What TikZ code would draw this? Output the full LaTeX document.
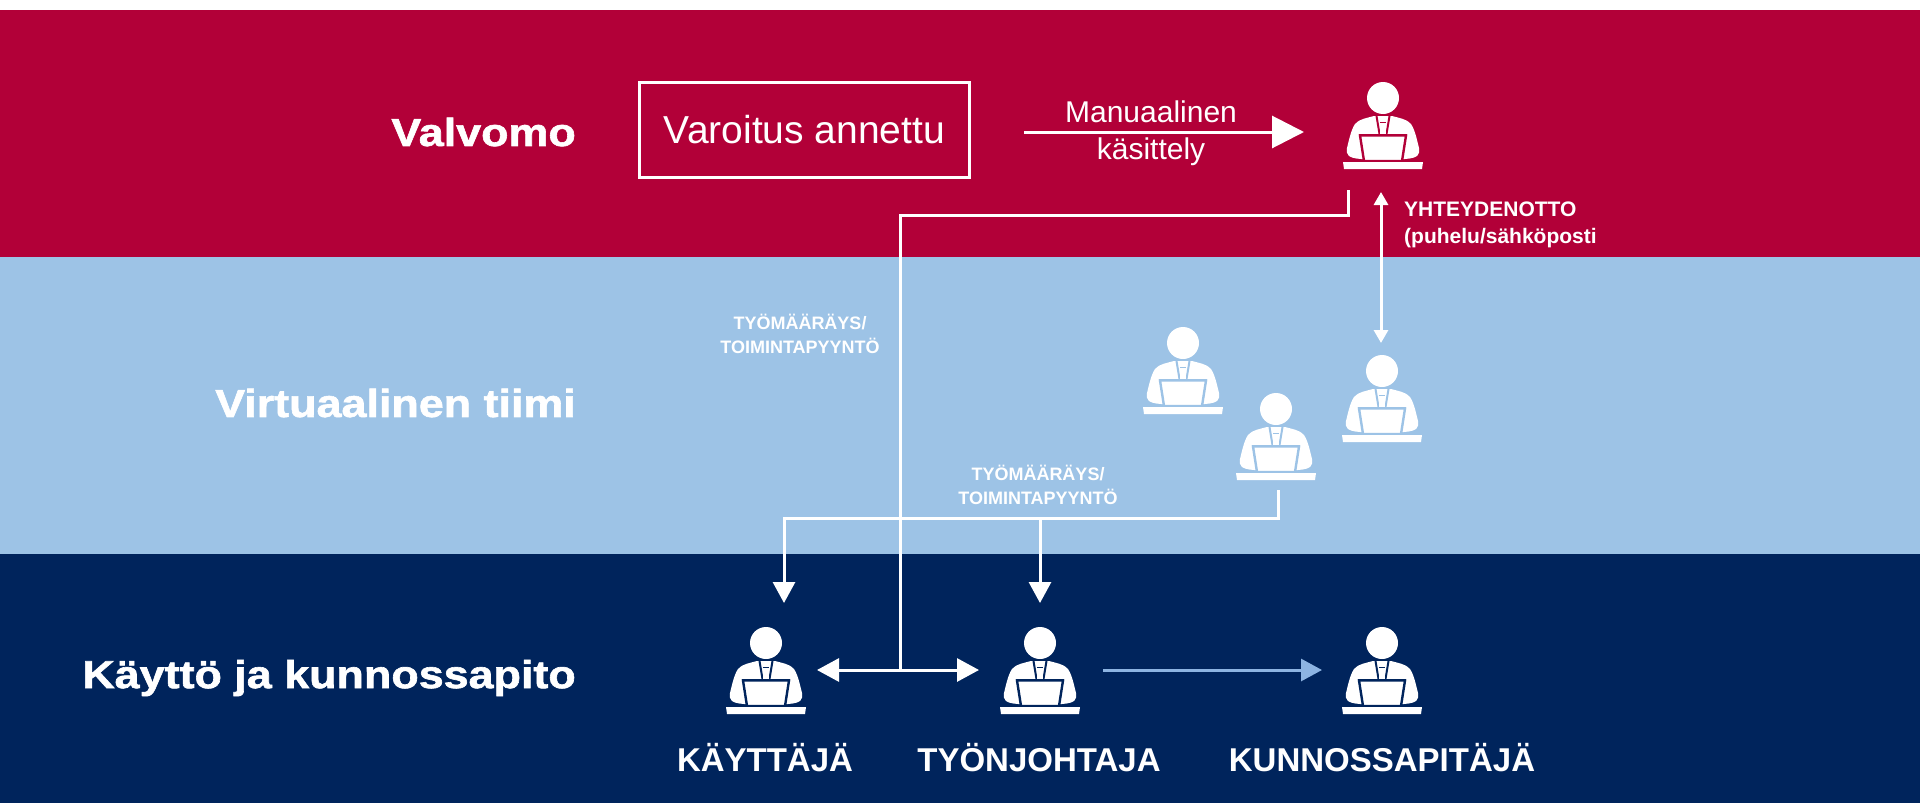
\documentclass[tikz,border=0pt]{standalone}
\usepackage{fontspec}
\setmainfont{Liberation Sans}
\newfontfamily\bandfont[FakeStretch=1.15,FakeBold=1.6]{Liberation Sans Bold}
\usetikzlibrary{arrows.meta}
\definecolor{bandred}{HTML}{B20038}
\definecolor{bandblue}{HTML}{9DC3E6}
\definecolor{bandnavy}{HTML}{00245C}
\definecolor{softblue}{HTML}{8DB4E2}
\tikzset{
  x=1pt,y=-1pt,
  line/.style={draw=white,line width=3pt},
  bigtip/.style={-{Triangle[length=32pt,width=32pt]}},
  bigtips/.style={{Triangle[length=22pt,width=23pt]}-{Triangle[length=22pt,width=23pt]}},
  smalltips/.style={{Triangle[length=13pt,width=14pt]}-{Triangle[length=13pt,width=14pt]}},
  midtip/.style={-{Triangle[length=21pt,width=22pt]}},
  band/.style={font=\fontsize{39}{40}\selectfont\bandfont,text=white,anchor=east,inner sep=0pt},
  role/.style={font=\fontsize{33}{36}\selectfont\bfseries,text=white,inner sep=0pt},
  small/.style={font=\fontsize{18}{23.5}\selectfont\bfseries,text=white,inner sep=0pt,align=center},
  plain/.style={font=\fontsize{30}{36}\selectfont,text=white,inner sep=0pt,align=center},
  person/.pic={
    \fill[white] (0,0) circle (16pt);
    \fill[white] (-9,18) .. controls (-16,20) and (-24,21) .. (-28,26)
      .. controls (-32,32) and (-34,42) .. (-36,50)
      .. controls (-37,57) and (-35,60) .. (-22,61) -- (22,61)
      .. controls (35,60) and (37,57) .. (36,50)
      .. controls (34,42) and (32,32) .. (28,26)
      .. controls (24,21) and (16,20) .. (9,18) -- cycle;
    \draw[pic actions,line width=2pt,fill=none] (-6.5,18) -- (-3.5,36) (6.5,18) -- (3.5,36);
    \fill[white] (-3,19) rectangle (3,36);
    \draw[pic actions,line width=1.2pt] (-3,24.5) -- (3,24.5);
    \draw[pic actions,line width=2.4pt,fill=white] (-23,37.5) -- (23,37.5) -- (19,63) -- (-19,63) -- cycle;
    \draw[pic actions,line width=2.4pt] (-24,37) -- (24,37);
    \fill[white] (-40,64) -- (40,64) -- (39,71) -- (-39,71) -- cycle;
  }
}
\begin{document}
\begin{tikzpicture}
\useasboundingbox (0,0) rectangle (1920,803);
\fill[white] (0,0) rectangle (1920,803);
\fill[bandred] (0,10) rectangle (1920,257);
\fill[bandblue] (0,257) rectangle (1920,554);
\fill[bandnavy] (0,554) rectangle (1920,803);

\node[band] (valvomo) at (576,132) {Valvomo};
\node[band] (virt) at (576,403) {Virtuaalinen tiimi};
\node[band] (kaytto) at (576,678) {Käyttö ja kunnossapito};

\node[draw=white,line width=3pt,minimum width=330pt,minimum height=95pt,inner sep=0pt,plain,font=\fontsize{39}{40}\selectfont] (alert) at (804.5,130) {Varoitus annettu};
\node[plain] (manu) at (1151,112) {Manuaalinen};
\node[plain] (kasi) at (1151,152) {käsittely};

\pic[draw=bandred] at (1383,98) {person};
\pic[draw=bandblue] at (1183,343) {person};
\pic[draw=bandblue] at (1382,371) {person};
\pic[draw=bandblue] at (1276,409) {person};
\pic[draw=bandnavy] at (766,643) {person};
\pic[draw=bandnavy] at (1040,643) {person};
\pic[draw=bandnavy] at (1382,643) {person};

\coordinate (topin) at (1304,132);
\coordinate (topout) at (1348,190);
\coordinate (topbend) at (1348,215);
\coordinate (trunk) at (900,215);
\coordinate (junction) at (900,670);
\coordinate (userR) at (817,670);
\coordinate (leadL) at (979,670);
\coordinate (leadR) at (1103,670);
\coordinate (maintL) at (1322,670);
\coordinate (phoneT) at (1381,192);
\coordinate (phoneB) at (1381,343);
\coordinate (teamout) at (1278,490);
\coordinate (teambend) at (1278,518);
\coordinate (userbend) at (784,518);
\coordinate (userT) at (784,603);
\coordinate (leadbend) at (1040,518);
\coordinate (leadT) at (1040,603);
\coordinate (manustart) at (1024,132);

\draw[line,bigtip] (manustart) -- (topin);
\draw[line] (topout) -- (topbend) -- (trunk) -- (junction);
\draw[line,bigtips] (userR) -- (leadL);
\draw[draw=softblue,line width=3pt,midtip] (leadR) -- (maintL);
\draw[line,smalltips] (phoneT) -- (phoneB);
\draw[line,midtip] (teamout) -- (teambend) -- (userbend) -- (userT);
\draw[line,midtip] (leadbend) -- (leadT);

\node[small] (wo1) at (800,334) {TYÖMÄÄRÄYS/\\TOIMINTAPYYNTÖ};
\node[small] (wo2) at (1038,485) {TYÖMÄÄRÄYS/\\TOIMINTAPYYNTÖ};
\node[small,align=left,anchor=west,font=\fontsize{21}{27}\selectfont\bfseries] (yht) at (1404,225) {YHTEYDENOTTO\\(puhelu/sähköposti};

\node[role] (r1) at (765,758) {KÄYTTÄJÄ};
\node[role] (r2) at (1039,758) {TYÖNJOHTAJA};
\node[role] (r3) at (1382,758) {KUNNOSSAPITÄJÄ};
\end{tikzpicture}
\end{document}
